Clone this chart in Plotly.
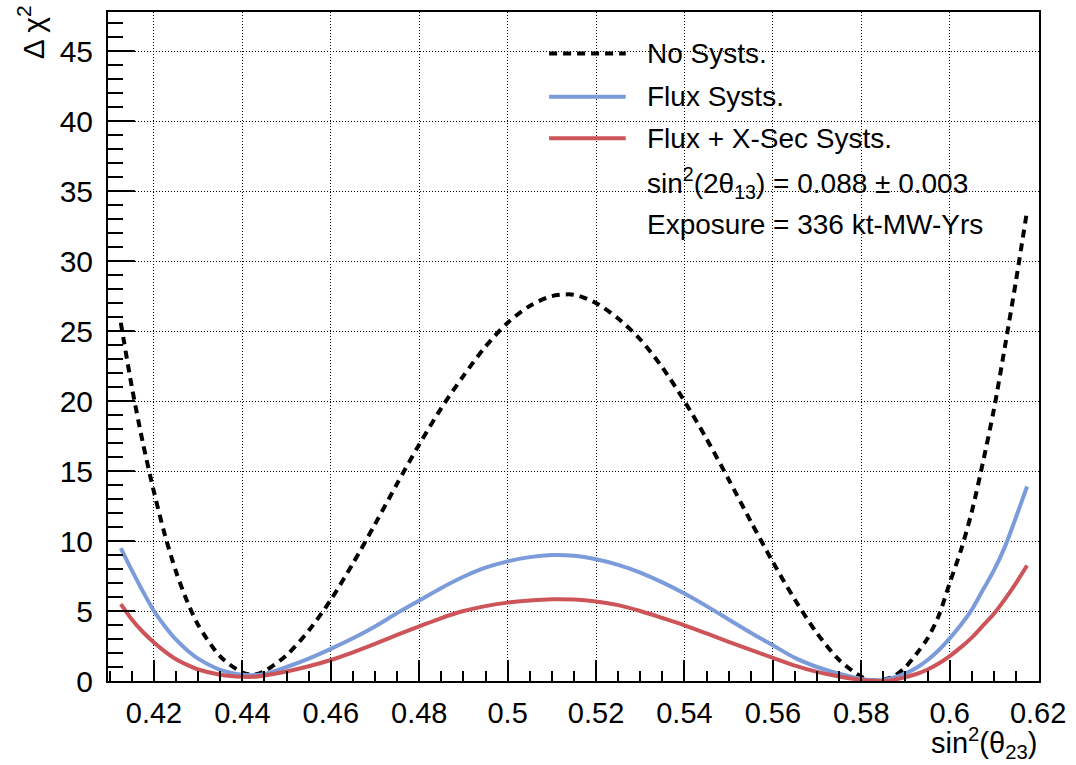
import plotly.graph_objects as go

# ---- data ----
sin2_theta23 = [0.4125, 0.415, 0.4175, 0.42, 0.4225, 0.425, 0.4275, 0.43, 0.435, 0.44, 0.4425, 0.445,
                0.45, 0.455, 0.46, 0.465, 0.47, 0.475, 0.48, 0.485, 0.49, 0.495, 0.5, 0.505, 0.51,
                0.515, 0.52, 0.525, 0.53, 0.535, 0.54, 0.545, 0.55, 0.555, 0.56, 0.565, 0.57, 0.575,
                0.58, 0.5825, 0.585, 0.5875, 0.59, 0.5925, 0.595, 0.5975, 0.6, 0.6025, 0.605, 0.6075,
                0.61, 0.6125, 0.615, 0.6175]

chi2_no_systs = [25.6, 21.0, 17.0, 13.5, 10.4, 7.8, 5.7, 4.0, 1.75, 0.6, 0.45, 0.7,
                 1.85, 3.6, 5.8, 8.4, 11.2, 14.1, 16.9, 19.5, 21.8, 23.9, 25.6, 26.8, 27.5,
                 27.6, 27.0, 25.9, 24.4, 22.4, 20.0, 17.3, 14.4, 11.4, 8.5, 5.8, 3.4, 1.5,
                 0.3, 0.02, 0.1, 0.35, 1.0, 1.95, 3.05, 4.65, 7.0, 9.3, 12.1, 15.6,
                 19.4, 23.9, 28.6, 33.6]

chi2_flux = [9.5, 7.9, 6.4, 5.0, 3.9, 2.95, 2.2, 1.6, 0.8, 0.45, 0.42, 0.5,
             1.0, 1.6, 2.3, 3.05, 3.9, 4.85, 5.75, 6.65, 7.45, 8.1, 8.55, 8.85, 9.0,
             8.95, 8.7, 8.3, 7.75, 7.05, 6.25, 5.35, 4.4, 3.45, 2.55, 1.65, 1.0, 0.52,
             0.15, 0.07, 0.08, 0.25, 0.55, 0.95, 1.5, 2.2, 3.05, 4.0, 5.1, 6.5,
             7.9, 9.6, 11.7, 13.9]

chi2_flux_xsec = [5.5, 4.4, 3.5, 2.75, 2.1, 1.55, 1.15, 0.82, 0.45, 0.3, 0.3, 0.4,
                  0.68, 1.05, 1.5, 2.05, 2.65, 3.3, 3.9, 4.5, 5.0, 5.35, 5.6, 5.75, 5.84,
                  5.82, 5.68, 5.42, 5.0, 4.5, 3.98, 3.4, 2.8, 2.22, 1.66, 1.1, 0.65, 0.32,
                  0.08, 0.02, 0.0, 0.1, 0.28, 0.5, 0.82, 1.25, 1.78, 2.4, 3.1, 3.95,
                  4.8, 5.85, 7.0, 8.25]

series_names = ["No Systs.", "Flux Systs.", "Flux + X-Sec Systs."]
info_lines = ["sin<sup>2</sup>(2θ<sub>13</sub>) = 0.088 ± 0.003", "Exposure = 336 kt-MW-Yrs"]

x_tickvals = [0.42, 0.44, 0.46, 0.48, 0.5, 0.52, 0.54, 0.56, 0.58, 0.6, 0.62]
x_ticktext = ["0.42", "0.44", "0.46", "0.48", "0.5", "0.52", "0.54", "0.56", "0.58", "0.6", "0.62"]
y_tickvals = [0, 5, 10, 15, 20, 25, 30, 35, 40, 45]
y_ticktext = ["0", "5", "10", "15", "20", "25", "30", "35", "40", "45"]

# ---- styles ----
FONT = "Liberation Sans, Arial, Helvetica, sans-serif"
C_BLACK = "#000000"
C_BLUE = "#7B9BDA"
C_RED = "#CD555A"
styles = [dict(color=C_BLACK, width=4, dash="8px,6px"),
          dict(color=C_BLUE, width=4),
          dict(color=C_RED, width=4)]
series = [chi2_no_systs, chi2_flux, chi2_flux_xsec]

fig = go.Figure()
for name, ys, st in zip(series_names, series, styles):
    fig.add_trace(go.Scatter(x=sin2_theta23, y=ys, mode="lines", name=name,
                             line=dict(shape="spline", smoothing=0.8, **st),
                             showlegend=False))

# manual ROOT-like legend (paper coordinates)
row_y = [0.938, 0.8735, 0.8114]
for name, st, yy in zip(series_names, styles, row_y):
    fig.add_shape(type="line", xref="paper", yref="paper", x0=0.4738, x1=0.5561, y0=yy, y1=yy,
                  line=st)
    fig.add_annotation(xref="paper", yref="paper", x=0.5765, y=yy, text=name, showarrow=False,
                       xanchor="left", yanchor="middle", font=dict(family=FONT, size=28, color="black"))
for txt, yy in zip(info_lines, [0.745, 0.6829]):
    fig.add_annotation(xref="paper", yref="paper", x=0.5765, y=yy, text=txt, showarrow=False,
                       xanchor="left", yanchor="middle", font=dict(family=FONT, size=28, color="black"))

# axis titles
fig.add_annotation(xref="paper", yref="paper", x=-0.0824, y=0.97, text="Δ χ<sup>2</sup>",
                   textangle=-90, showarrow=False, xanchor="center", yanchor="middle",
                   font=dict(family=FONT, size=30, color="black"))
fig.add_annotation(xref="paper", yref="paper", x=1.0, y=-0.092, text="sin<sup>2</sup>(θ<sub>23</sub>)",
                   showarrow=False, xanchor="right", yanchor="middle",
                   font=dict(family=FONT, size=29, color="black"))

axis_common = dict(showline=True, linecolor="black", linewidth=2, mirror=True,
                   ticks="inside", tickcolor="black", tickwidth=1.5,
                   showgrid=True, gridcolor="black", gridwidth=1, griddash="1px,2px",
                   zeroline=False)

fig.update_xaxes(range=[0.4096, 0.6202], tickmode="array", tickvals=x_tickvals, ticktext=x_ticktext,
                 ticklen=21, ticklabelstandoff=5, tickfont=dict(family=FONT, size=29, color="black"),
                 minor=dict(ticks="inside", ticklen=10, dtick=0.005, tick0=0.42, tickcolor="black",
                            tickwidth=1.5, showgrid=False),
                 **axis_common)
fig.update_yaxes(range=[0, 47.8], tickmode="array", tickvals=y_tickvals, ticktext=y_ticktext,
                 ticklen=27, ticklabelstandoff=7, tickfont=dict(family=FONT, size=30, color="black"),
                 minor=dict(ticks="inside", ticklen=15, dtick=1, tick0=0, tickcolor="black",
                            tickwidth=1.5, showgrid=False),
                 **axis_common)

fig.update_layout(width=1076, height=765, autosize=False,
                  margin=dict(l=108, r=33, t=10, b=84),
                  paper_bgcolor="white", plot_bgcolor="white",
                  font=dict(family=FONT, color="black"))

fig.write_html("out.html")
